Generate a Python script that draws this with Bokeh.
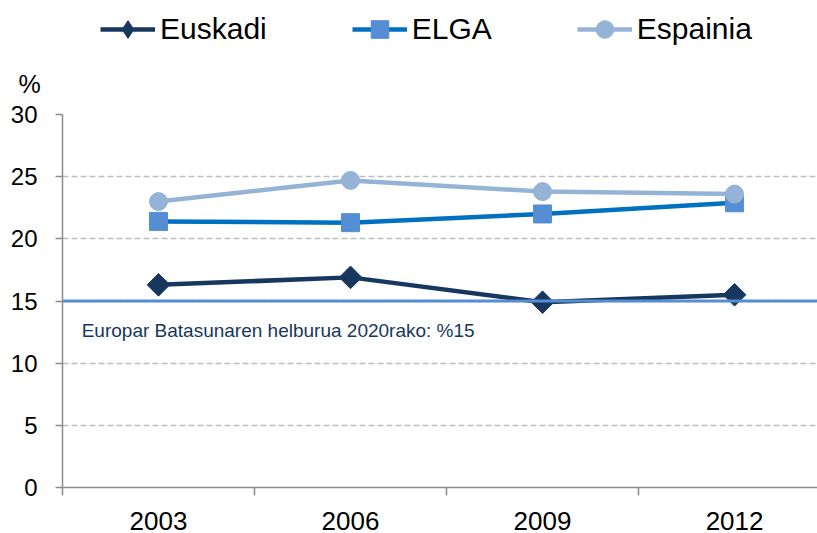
import math
from bokeh.plotting import figure
from bokeh.layouts import column
from bokeh.models import Range1d, FixedTicker, Legend, LegendItem, Label, Title
from bokeh.embed import file_html
from bokeh.resources import INLINE

years = ["2003", "2006", "2009", "2012"]
euskadi = [16.3, 16.9, 14.9, 15.5]
elga = [21.4, 21.3, 22.0, 22.9]
espainia = [23.0, 24.7, 23.8, 23.6]
target = 15
target_label = "Europar Batasunaren helburua 2020rako: %15"
y_ticks = [0, 5, 10, 15, 20, 25, 30]
series_names = ["Euskadi", "ELGA", "Espainia"]
unit_label = "%"

FONT = "Liberation Sans"
C_EUS = "#17375E"
C_ELGA_LINE = "#0070C0"
C_ELGA_MARK = "#558ED5"
C_ESP = "#95B3D7"
C_TARGET = "#558ED5"
C_AXIS = "#8C8C8C"
LW = 4.5

x = list(range(len(years)))


def draw_series(fig, sizes):
    r = []
    r.append(fig.line(x, euskadi, line_color=C_EUS, line_width=LW))
    r.append(fig.scatter(x, euskadi, marker=sizes[0][0], angle=sizes[0][2], size=sizes[0][1],
                         fill_color=C_EUS, line_color=C_EUS))
    r.append(fig.line(x, elga, line_color=C_ELGA_LINE, line_width=LW))
    r.append(fig.scatter(x, elga, marker="square", size=sizes[1],
                         fill_color=C_ELGA_MARK, line_color=C_ELGA_MARK))
    r.append(fig.line(x, espainia, line_color=C_ESP, line_width=LW))
    r.append(fig.scatter(x, espainia, marker="circle", size=sizes[2],
                         fill_color=C_ESP, line_color=C_ESP))
    return r


# ---------------- main chart ----------------
p = figure(width=817, height=480,
           x_range=Range1d(-0.5, 3.432), y_range=Range1d(0, 30),
           output_backend="svg", toolbar_location=None,
           min_border_left=62, min_border_right=0,
           min_border_top=61, min_border_bottom=46)
p.outline_line_color = None

xa = p.xaxis[0]
xa.ticker = FixedTicker(ticks=x, minor_ticks=[i - 0.5 for i in range(len(years) + 1)])
xa.major_label_overrides = {i: y for i, y in zip(x, years)}
xa.major_tick_out = 0
xa.major_tick_in = 0
xa.minor_tick_out = 8
xa.minor_tick_in = 0
xa.minor_tick_line_color = C_AXIS
xa.minor_tick_line_width = 1.5
xa.axis_line_color = C_AXIS
xa.axis_line_width = 1.5
xa.major_label_text_font = FONT
xa.major_label_text_font_size = "26px"
xa.major_label_text_color = "black"
xa.major_label_standoff = 16

ya = p.yaxis[0]
ya.ticker = FixedTicker(ticks=y_ticks, minor_ticks=[])
ya.major_tick_out = 7
ya.major_tick_in = 0
ya.major_tick_line_color = C_AXIS
ya.major_tick_line_width = 1.5
ya.axis_line_color = C_AXIS
ya.axis_line_width = 1.5
ya.major_label_text_font = FONT
ya.major_label_text_font_size = "24px"
ya.major_label_text_color = "black"
ya.major_label_standoff = 18

p.xgrid.grid_line_color = None
p.ygrid.ticker = FixedTicker(ticks=y_ticks[1:])
p.ygrid.grid_line_color = "#BFBFBF"
p.ygrid.grid_line_dash = "6 3"
p.ygrid.grid_line_width = 1.3

draw_series(p, [("square", 16, math.pi / 4), 18, 18])

# target line across the category span (clipped at the frame edge)
p.line([x[0] - 0.5, x[-1] + 0.5], [target, target], line_color=C_TARGET, line_width=3)
p.add_layout(Label(x=-0.4, y=12.63, text=target_label,
                   text_font=FONT, text_font_size="19px",
                   text_color=C_EUS, text_baseline="alphabetic"))

# unit label "%" above the y axis
p.add_layout(Title(text=unit_label, align="left", offset=-44, standoff=29,
                   vertical_align="top",
                   text_font=FONT, text_font_size="25px", text_font_style="normal",
                   text_color="black"), "above")

# ---------------- header (legend) ----------------
# the same series are drawn here outside the visible range, only to feed the legend
h = figure(width=817, height=53, x_range=Range1d(0, 755), y_range=Range1d(-157, -100),
           output_backend="svg", toolbar_location=None,
           min_border_left=62, min_border_right=0, min_border_top=0, min_border_bottom=0)
h.axis.visible = False
h.grid.visible = False
h.outline_line_color = None

hr = draw_series(h, [("diamond", 10, 0), 10, 10])

legend = Legend(items=[LegendItem(label=series_names[0], renderers=hr[0:2]),
                       LegendItem(label=series_names[1], renderers=hr[2:4]),
                       LegendItem(label=series_names[2], renderers=hr[4:6])],
                orientation="horizontal", location=(38, 2),
                glyph_width=55, glyph_height=44, label_standoff=5,
                spacing=85, padding=0, margin=0,
                label_text_font=FONT, label_text_font_size="30px",
                label_text_color="black", label_height=44,
                background_fill_alpha=0, border_line_alpha=0)
h.add_layout(legend)

open("out.html", "w").write(file_html(column(h, p), INLINE))
